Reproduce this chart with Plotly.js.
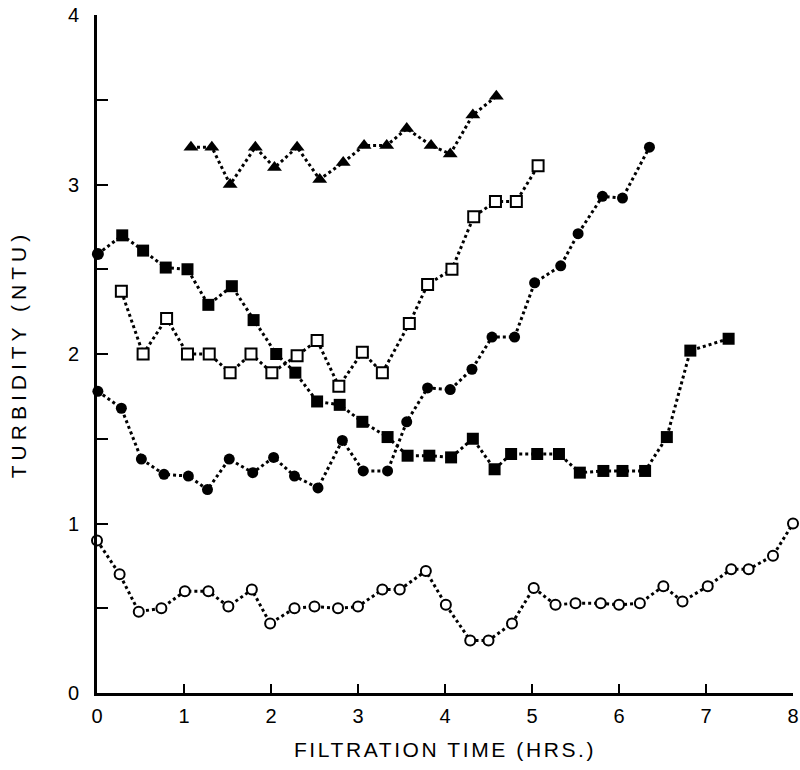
<!DOCTYPE html>
<html>
<head>
<meta charset="utf-8">
<script src="https://cdn.plot.ly/plotly-3.0.1.min.js"></script>
<style>
  body { margin: 0; background: #fff; }
  #chart { width: 800px; height: 770px; }
  .xtitle { letter-spacing: 2.6px; }
  .ytitle { letter-spacing: 5px; }
</style>
</head>
<body>
<div id="chart"></div>
<script>
// Filtration time (hours) and turbidity (NTU) for each run
const openCircX = [0, 0.26, 0.48, 0.74, 1.01, 1.28, 1.51, 1.78, 1.99, 2.27, 2.50, 2.77, 3.00, 3.28, 3.48, 3.78, 4.01, 4.29, 4.50, 4.77, 5.02, 5.27, 5.50, 5.79, 6.00, 6.24, 6.51, 6.73, 7.02, 7.29, 7.49, 7.77, 8.00];
const openCircY = [0.90, 0.70, 0.48, 0.50, 0.60, 0.60, 0.51, 0.61, 0.41, 0.50, 0.51, 0.50, 0.51, 0.61, 0.61, 0.72, 0.52, 0.31, 0.31, 0.41, 0.62, 0.52, 0.53, 0.53, 0.52, 0.53, 0.63, 0.54, 0.63, 0.73, 0.73, 0.81, 1.00];

const filledCircX = [0.01, 0.28, 0.51, 0.77, 1.05, 1.27, 1.52, 1.79, 2.03, 2.27, 2.54, 2.82, 3.06, 3.34, 3.56, 3.80, 4.06, 4.31, 4.54, 4.80, 5.03, 5.33, 5.53, 5.81, 6.04, 6.35];
const filledCircY = [1.78, 1.68, 1.38, 1.29, 1.28, 1.20, 1.38, 1.30, 1.39, 1.28, 1.21, 1.49, 1.31, 1.31, 1.60, 1.80, 1.79, 1.91, 2.10, 2.10, 2.42, 2.52, 2.71, 2.93, 2.92, 3.22];

const filledSqX = [0.01, 0.29, 0.53, 0.79, 1.04, 1.28, 1.55, 1.80, 2.06, 2.28, 2.53, 2.79, 3.05, 3.34, 3.57, 3.82, 4.07, 4.32, 4.57, 4.76, 5.06, 5.31, 5.55, 5.82, 6.04, 6.30, 6.55, 6.82, 7.26];
const filledSqY = [2.59, 2.70, 2.61, 2.51, 2.50, 2.29, 2.40, 2.20, 2.00, 1.89, 1.72, 1.70, 1.60, 1.51, 1.40, 1.40, 1.39, 1.50, 1.32, 1.41, 1.41, 1.41, 1.30, 1.31, 1.31, 1.31, 1.51, 2.02, 2.09];

const openSqX = [0.28, 0.53, 0.80, 1.04, 1.29, 1.53, 1.77, 2.01, 2.30, 2.53, 2.78, 3.05, 3.28, 3.59, 3.80, 4.08, 4.33, 4.58, 4.82, 5.07];
const openSqY = [2.37, 2.00, 2.21, 2.00, 2.00, 1.89, 2.00, 1.89, 1.99, 2.08, 1.81, 2.01, 1.89, 2.18, 2.41, 2.50, 2.81, 2.90, 2.90, 3.11];

const triX = [1.08, 1.32, 1.53, 1.82, 2.04, 2.30, 2.56, 2.83, 3.07, 3.33, 3.56, 3.84, 4.06, 4.32, 4.59];
const triY = [3.22, 3.22, 3.00, 3.22, 3.10, 3.22, 3.03, 3.13, 3.23, 3.23, 3.33, 3.23, 3.18, 3.41, 3.52];

const xTickVals = [0, 1, 2, 3, 4, 5, 6, 7, 8];
const xTickText = ['0', '1', '2', '3', '4', '5', '6', '7', '8'];
const yTickVals = [0, 1, 2, 3, 4];
const yTickText = ['0', '1', '2', '3', '4'];

const xTitle = 'FILTRATION TIME (HRS.)';
const yTitle = 'TURBIDITY (NTU)';

const dotLine = { color: '#000', width: 3, dash: '3px,3px' };

function series(x, y, symbol, size, open) {
  return {
    type: 'scatter', mode: 'lines+markers', x: x, y: y,
    line: dotLine,
    marker: {
      symbol: symbol, size: size,
      color: open ? '#fff' : '#000',
      line: { color: '#000', width: open ? 2 : 0 }
    },
    cliponaxis: false, showlegend: false, hoverinfo: 'skip'
  };
}

const sqSymbols = filledSqX.map((v, i) => i === 0 ? 'circle' : 'square');

const data = [
  series(openCircX, openCircY, 'circle', 10, true),
  series(filledCircX, filledCircY, 'circle', 11, false),
  series(openSqX, openSqY, 'square', 11, true),
  series(filledSqX, filledSqY, sqSymbols, 12, false),
  series(triX, triY, 'triangle-up', 13, false)
];

const fam = 'Liberation Sans, Arial, sans-serif';

const layout = {
  width: 800, height: 770,
  margin: { l: 97, r: 7, t: 15, b: 77 },
  paper_bgcolor: '#fff', plot_bgcolor: '#fff',
  font: { family: fam, color: '#000' },
  showlegend: false,
  xaxis: {
    range: [0, 8], tickvals: xTickVals, ticktext: xTickText,
    ticks: 'inside', ticklen: 9, tickwidth: 2, tickcolor: '#000',
    showline: true, linewidth: 3, linecolor: '#000',
    showgrid: false, zeroline: false,
    tickfont: { size: 20, family: fam, color: '#000' },
    ticklabelstandoff: 3,
    title: { text: xTitle, standoff: 17, font: { size: 21, family: fam, color: '#000' } }
  },
  yaxis: {
    range: [0, 4], tickvals: yTickVals, ticktext: yTickText,
    ticks: 'inside', ticklen: 11, tickwidth: 2, tickcolor: '#000',
    minor: { dtick: 0.5, ticks: 'inside', ticklen: 11, tickwidth: 2, tickcolor: '#000', showgrid: false },
    showline: true, linewidth: 3, linecolor: '#000',
    showgrid: false, zeroline: false,
    tickfont: { size: 20, family: fam, color: '#000' },
    ticklabelstandoff: 11,
    title: { text: yTitle, standoff: 36, font: { size: 21, family: fam, color: '#000' } }
  }
};

Plotly.newPlot('chart', data, layout, { staticPlot: true, displayModeBar: false });
</script>
</body>
</html>
